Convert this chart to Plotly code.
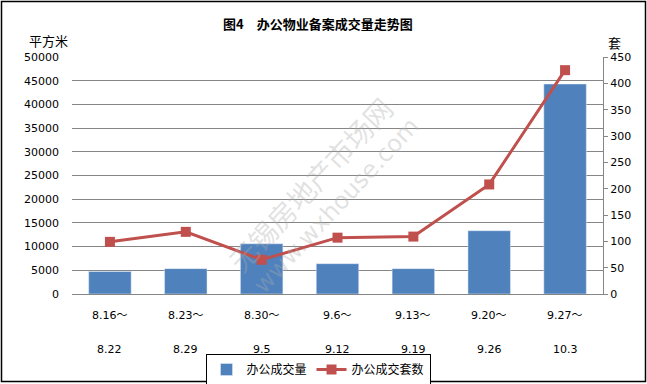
import plotly.graph_objects as go

periods_start = ["8.16～", "8.23～", "8.30～", "9.6～", "9.13～", "9.20～", "9.27～"]
periods_end = ["8.22", "8.29", "9.5", "9.12", "9.19", "9.26", "10.3"]
area = [4750, 5350, 10600, 6400, 5350, 13350, 44300]   # 办公成交量 (平方米)
units = [99, 118, 65, 107, 109, 208, 425]               # 办公成交套数 (套)
left_ticks = list(range(0, 50001, 5000))
right_ticks = list(range(0, 451, 50))

W, H = 647, 384
L, R, T, B = 72, 44, 57, 90
pw, ph = W - L - R, H - T - B

def px_x(x):
    return (x - L) / pw

def px_y(y):
    return (H - B - y) / ph

font = "DejaVu Sans, Noto Sans CJK SC, sans-serif"
cjk = "Noto Sans CJK SC, sans-serif"
xs = list(range(len(periods_start)))

fig = go.Figure()
fig.add_trace(go.Bar(x=xs, y=area, name="办公成交量", marker_color="#4F81BD",
                     width=0.56, yaxis="y"))
fig.add_trace(go.Scatter(x=xs, y=units, name="办公成交套数", mode="lines+markers",
                         line=dict(color="#C0504D", width=3),
                         marker=dict(symbol="square", size=10, color="#C0504D"),
                         yaxis="y2"))

annotations = []
for i in xs:
    annotations.append(dict(x=i, y=px_y(315.5), xref="x", yref="paper", text=periods_start[i],
                            showarrow=False, font=dict(family=font, size=11, color="#000"),
                            yanchor="middle"))
    annotations.append(dict(x=i, y=px_y(349), xref="x", yref="paper", text=periods_end[i],
                            showarrow=False, font=dict(family=font, size=11, color="#000"),
                            yanchor="middle"))
annotations += [
    dict(x=px_x(318), y=px_y(24), xref="paper", yref="paper", text="<b>图4　办公物业备案成交量走势图</b>",
         showarrow=False, font=dict(family=cjk, size=13, color="#000"), xanchor="center", yanchor="middle"),
    dict(x=px_x(48), y=px_y(40), xref="paper", yref="paper", text="平方米",
         showarrow=False, font=dict(family=cjk, size=13, color="#000"), xanchor="center", yanchor="middle"),
    dict(x=px_x(614), y=px_y(42), xref="paper", yref="paper", text="套",
         showarrow=False, font=dict(family=cjk, size=13, color="#000"), xanchor="center", yanchor="middle"),
    dict(x=px_x(310), y=px_y(184), xref="paper", yref="paper", text="无锡房地产市场网",
         showarrow=False, textangle=-47, font=dict(family=cjk, size=28, color="rgba(170,170,170,0.35)")),
    dict(x=px_x(336), y=px_y(206), xref="paper", yref="paper", text="www.wxhouse.com",
         showarrow=False, textangle=-47, font=dict(family=font, size=24, color="rgba(170,170,170,0.35)")),
]

fig.update_layout(
    width=W, height=H,
    margin=dict(l=L, r=R, t=T, b=B, autoexpand=False),
    paper_bgcolor="white", plot_bgcolor="white",
    showlegend=True,
    legend=dict(orientation="h", x=px_x(318), xanchor="center", y=px_y(354), yanchor="top",
                bordercolor="#000", borderwidth=1, font=dict(family=cjk, size=12, color="#000"),
                bgcolor="white", itemwidth=30, tracegroupgap=0),
    xaxis=dict(range=[-0.5, 6.5], tickvals=xs, showticklabels=False, showline=True,
               linecolor="#868686", linewidth=1, showgrid=False, zeroline=False, ticks="",
               automargin=False),
    yaxis=dict(range=[0, 50000], tickvals=left_ticks, ticktext=[str(v) for v in left_ticks],
               showgrid=True, gridcolor="#868686", gridwidth=1, zeroline=False, showline=False,
               ticks="", tickfont=dict(family=font, size=11, color="#000"), ticklabelstandoff=12,
               automargin=False),
    yaxis2=dict(range=[0, 450], tickvals=right_ticks, overlaying="y", side="right",
                showgrid=False, zeroline=False, showline=True, linecolor="#868686", linewidth=1,
                ticks="outside", ticklen=4, tickcolor="#868686",
                tickfont=dict(family=font, size=11, color="#000"), automargin=False),
    annotations=annotations,
    shapes=[dict(type="rect", xref="paper", yref="paper", x0=px_x(1.5), x1=px_x(645.5),
                 y0=px_y(381.5), y1=px_y(1.5), line=dict(color="#000", width=1.5), layer="above")],
    bargap=0.44,
)

fig.write_html("out.html", config={"displayModeBar": False},
               post_script="document.body.style.margin='0';document.body.style.overflow='hidden';")
